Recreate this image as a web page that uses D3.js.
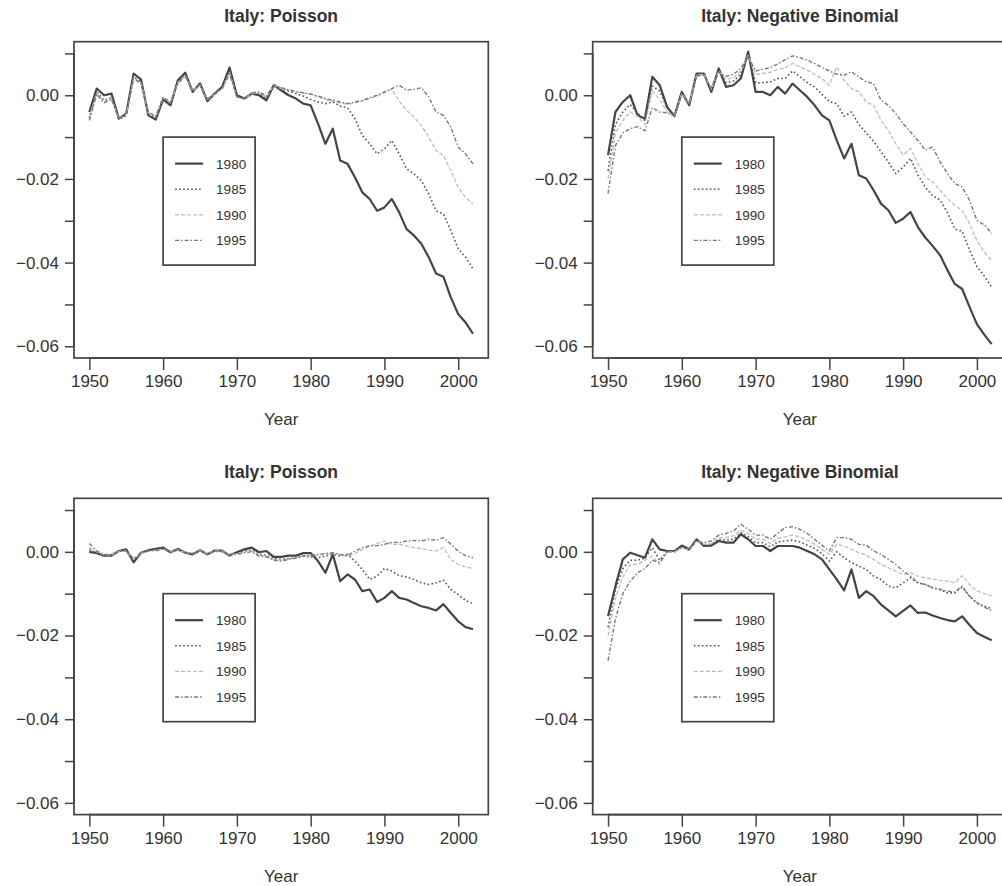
<!DOCTYPE html>
<html>
<head>
<meta charset="utf-8">
<script src="https://cdn.jsdelivr.net/npm/d3@7"></script>
<style>
  body { margin: 0; background: #fff; }
  svg { display: block; }
  text { font-family: "Liberation Sans", Arial, sans-serif; fill: #333; }
</style>
</head>
<body>
<svg id="chart" width="1002" height="886"></svg>
<script>
// Period effects for Italy, 1950–2002, fitted with data up to 1980, 1985, 1990 and 1995
const years = d3.range(1950, 2003);
const fitYears = ["1980", "1985", "1990", "1995"];
const panelTitles = ["Italy: Poisson", "Italy: Negative Binomial", "Italy: Poisson", "Italy: Negative Binomial"];
const xTicks = [1950, 1960, 1970, 1980, 1990, 2000];
const yTicks = [0.01, 0, -0.01, -0.02, -0.03, -0.04, -0.05, -0.06];
const yLabelled = [0, -0.02, -0.04, -0.06];

// Top-left: Poisson
const poisA_1980 = [-0.0040, 0.0016, 0.0000, 0.0004, -0.0056, -0.0044, 0.0052, 0.0038, -0.0048, -0.0058,
  -0.0010, -0.0024, 0.0036, 0.0054, 0.0008, 0.0028, -0.0014, 0.0004, 0.0020, 0.0066,
  0.0000, -0.0008, 0.0004, 0.0000, -0.0012, 0.0024, 0.0012, 0.0000, -0.0008, -0.0020,
  -0.0024, -0.0068, -0.0116, -0.0080, -0.0156, -0.0164, -0.0196, -0.0232, -0.0248, -0.0276,
  -0.0268, -0.0248, -0.0280, -0.0320, -0.0335, -0.0355, -0.0387, -0.0426, -0.0434, -0.0483,
  -0.0523, -0.0543, -0.0570];
const poisA_1985 = [-0.0055, 0.0008, -0.0012, -0.0005, -0.0058, -0.0048, 0.0045, 0.0032, -0.0045, -0.0055,
  -0.0008, -0.0020, 0.0032, 0.0050, 0.0010, 0.0026, -0.0012, 0.0002, 0.0018, 0.0058,
  -0.0002, -0.0010, 0.0002, 0.0004, -0.0008, 0.0022, 0.0016, 0.0010, 0.0004, -0.0002,
  -0.0010, -0.0016, -0.0020, -0.0016, -0.0026, -0.0030, -0.0056, -0.0096, -0.0116, -0.0140,
  -0.0128, -0.0108, -0.0140, -0.0176, -0.0188, -0.0204, -0.0236, -0.0276, -0.0284, -0.0323,
  -0.0367, -0.0387, -0.0415];
const poisA_1990 = [-0.0052, 0.0005, -0.0015, -0.0008, -0.0056, -0.0046, 0.0042, 0.0030, -0.0042, -0.0052,
  -0.0006, -0.0018, 0.0030, 0.0048, 0.0010, 0.0024, -0.0010, 0.0002, 0.0016, 0.0054,
  -0.0004, -0.0010, 0.0004, 0.0006, -0.0004, 0.0024, 0.0016, 0.0012, 0.0008, 0.0005,
  0.0002, -0.0004, -0.0010, -0.0014, -0.0018, -0.0022, -0.0018, -0.0014, -0.0008, -0.0002,
  0.0006, 0.0014, -0.0014, -0.0036, -0.0052, -0.0072, -0.0100, -0.0132, -0.0144, -0.0180,
  -0.0220, -0.0244, -0.0260];
const poisA_1995 = [-0.0060, 0.0002, -0.0018, -0.0010, -0.0055, -0.0046, 0.0040, 0.0028, -0.0040, -0.0050,
  -0.0005, -0.0016, 0.0028, 0.0046, 0.0012, 0.0024, -0.0008, 0.0004, 0.0016, 0.0050,
  -0.0004, -0.0008, 0.0006, 0.0008, -0.0002, 0.0026, 0.0018, 0.0013, 0.0009, 0.0006,
  0.0003, -0.0002, -0.0008, -0.0012, -0.0016, -0.0020, -0.0016, -0.0012, -0.0006, 0.0000,
  0.0008, 0.0016, 0.0024, 0.0012, 0.0014, 0.0018, -0.0004, -0.0040, -0.0048, -0.0076,
  -0.0124, -0.0140, -0.0164];

// Top-right: Negative Binomial
const nbA_1980 = [-0.0143, -0.0040, -0.0016, 0.0000, -0.0048, -0.0056, 0.0044, 0.0024, -0.0028, -0.0050,
  0.0008, -0.0024, 0.0052, 0.0052, 0.0008, 0.0064, 0.0020, 0.0024, 0.0040, 0.0104,
  0.0008, 0.0008, 0.0000, 0.0020, 0.0004, 0.0028, 0.0012, -0.0004, -0.0024, -0.0048,
  -0.0060, -0.0108, -0.0151, -0.0116, -0.0191, -0.0199, -0.0227, -0.0259, -0.0275, -0.0305,
  -0.0295, -0.0279, -0.0315, -0.0340, -0.0360, -0.0382, -0.0418, -0.0451, -0.0463, -0.0506,
  -0.0547, -0.0572, -0.0595];
const nbA_1985 = [-0.0180, -0.0070, -0.0040, -0.0022, -0.0042, -0.0060, 0.0022, 0.0010, -0.0030, -0.0050,
  0.0006, -0.0022, 0.0050, 0.0050, 0.0012, 0.0060, 0.0030, 0.0034, 0.0050, 0.0098,
  0.0030, 0.0030, 0.0032, 0.0040, 0.0040, 0.0058, 0.0045, 0.0030, 0.0020, 0.0002,
  -0.0015, -0.0020, -0.0050, -0.0040, -0.0070, -0.0090, -0.0110, -0.0135, -0.0160, -0.0187,
  -0.0172, -0.0151, -0.0190, -0.0220, -0.0240, -0.0250, -0.0280, -0.0320, -0.0325, -0.0370,
  -0.0410, -0.0432, -0.0459];
const nbA_1990 = [-0.0200, -0.0090, -0.0060, -0.0040, -0.0050, -0.0070, 0.0010, -0.0010, -0.0040, -0.0050,
  0.0004, -0.0020, 0.0048, 0.0050, 0.0015, 0.0058, 0.0038, 0.0042, 0.0058, 0.0095,
  0.0050, 0.0052, 0.0055, 0.0062, 0.0066, 0.0076, 0.0068, 0.0060, 0.0050, 0.0040,
  0.0024, 0.0068, 0.0036, 0.0016, 0.0008, -0.0016, -0.0024, -0.0060, -0.0084, -0.0116,
  -0.0143, -0.0127, -0.0163, -0.0195, -0.0207, -0.0227, -0.0247, -0.0263, -0.0275, -0.0307,
  -0.0347, -0.0375, -0.0395];
const nbA_1995 = [-0.0235, -0.0120, -0.0090, -0.0080, -0.0075, -0.0085, -0.0030, -0.0040, -0.0042, -0.0050,
  0.0002, -0.0020, 0.0046, 0.0048, 0.0018, 0.0056, 0.0045, 0.0050, 0.0065, 0.0092,
  0.0058, 0.0062, 0.0066, 0.0075, 0.0085, 0.0094, 0.0090, 0.0084, 0.0076, 0.0066,
  0.0058, 0.0050, 0.0048, 0.0056, 0.0044, 0.0032, 0.0028, -0.0012, -0.0024, -0.0044,
  -0.0068, -0.0088, -0.0108, -0.0131, -0.0124, -0.0159, -0.0187, -0.0211, -0.0219, -0.0251,
  -0.0299, -0.0310, -0.0330];

// Bottom-left: Poisson
const poisB_1980 = [0.0000, -0.0003, -0.0009, -0.0009, 0.0002, 0.0006, -0.0025, -0.0002, 0.0004, 0.0007,
  0.0010, -0.0001, 0.0007, -0.0002, -0.0006, 0.0004, -0.0006, 0.0003, 0.0003, -0.0009,
  -0.0001, 0.0006, 0.0010, -0.0001, 0.0002, -0.0012, -0.0012, -0.0009, -0.0009, -0.0003,
  -0.0003, -0.0022, -0.0050, -0.0006, -0.0070, -0.0054, -0.0066, -0.0094, -0.0090, -0.0120,
  -0.0110, -0.0094, -0.0110, -0.0114, -0.0122, -0.0130, -0.0134, -0.0140, -0.0125, -0.0146,
  -0.0166, -0.0180, -0.0185];
const poisB_1985 = [0.0005, -0.0002, -0.0008, -0.0008, 0.0001, 0.0004, -0.0020, -0.0003, 0.0003, 0.0005,
  0.0008, 0.0000, 0.0006, -0.0002, -0.0005, 0.0003, -0.0005, 0.0002, 0.0002, -0.0008,
  -0.0004, 0.0002, 0.0004, -0.0006, -0.0008, -0.0016, -0.0018, -0.0016, -0.0014, -0.0010,
  -0.0012, -0.0014, -0.0010, -0.0006, -0.0010, -0.0006, -0.0022, -0.0042, -0.0066, -0.0058,
  -0.0040, -0.0046, -0.0057, -0.0060, -0.0066, -0.0074, -0.0078, -0.0074, -0.0068, -0.0090,
  -0.0102, -0.0116, -0.0124];
const poisB_1990 = [0.0010, 0.0000, -0.0007, -0.0007, 0.0001, 0.0003, -0.0018, -0.0003, 0.0002, 0.0004,
  0.0007, 0.0000, 0.0005, -0.0002, -0.0004, 0.0003, -0.0004, 0.0002, 0.0002, -0.0007,
  -0.0005, 0.0000, 0.0002, -0.0008, -0.0010, -0.0018, -0.0020, -0.0017, -0.0014, -0.0010,
  -0.0010, -0.0008, -0.0006, -0.0004, -0.0008, -0.0010, -0.0004, 0.0006, 0.0014, 0.0020,
  0.0026, 0.0018, 0.0018, 0.0014, 0.0010, 0.0008, 0.0004, 0.0002, 0.0010, -0.0018,
  -0.0030, -0.0036, -0.0040];
const poisB_1995 = [0.0020, 0.0002, -0.0006, -0.0006, 0.0001, 0.0003, -0.0016, -0.0003, 0.0002, 0.0003,
  0.0006, 0.0000, 0.0004, -0.0002, -0.0004, 0.0002, -0.0004, 0.0001, 0.0001, -0.0006,
  -0.0006, -0.0002, 0.0000, -0.0010, -0.0012, -0.0020, -0.0022, -0.0018, -0.0015, -0.0010,
  -0.0008, -0.0006, -0.0004, -0.0002, -0.0006, -0.0009, 0.0002, 0.0010, 0.0014, 0.0015,
  0.0018, 0.0023, 0.0022, 0.0026, 0.0027, 0.0026, 0.0030, 0.0028, 0.0034, 0.0018,
  0.0002, -0.0009, -0.0014];

// Bottom-right: Negative Binomial
const nbB_1980 = [-0.0154, -0.0082, -0.0018, -0.0002, -0.0008, -0.0014, 0.0030, 0.0006, 0.0002, 0.0002,
  0.0015, 0.0006, 0.0030, 0.0014, 0.0015, 0.0026, 0.0022, 0.0022, 0.0042, 0.0030,
  0.0014, 0.0014, 0.0002, 0.0014, 0.0014, 0.0014, 0.0010, 0.0002, -0.0006, -0.0018,
  -0.0042, -0.0066, -0.0092, -0.0042, -0.0110, -0.0094, -0.0106, -0.0126, -0.0140, -0.0154,
  -0.0141, -0.0128, -0.0146, -0.0145, -0.0152, -0.0158, -0.0163, -0.0166, -0.0154, -0.0175,
  -0.0194, -0.0203, -0.0211];
const nbB_1985 = [-0.0180, -0.0090, -0.0040, -0.0020, -0.0020, -0.0015, 0.0010, -0.0020, 0.0000, 0.0000,
  0.0012, 0.0004, 0.0028, 0.0016, 0.0018, 0.0030, 0.0028, 0.0030, 0.0046, 0.0036,
  0.0022, 0.0022, 0.0012, 0.0024, 0.0026, 0.0028, 0.0024, 0.0016, 0.0008, -0.0004,
  -0.0022, 0.0000, -0.0014, -0.0026, -0.0034, -0.0042, -0.0058, -0.0066, -0.0082, -0.0086,
  -0.0074, -0.0062, -0.0074, -0.0078, -0.0086, -0.0090, -0.0098, -0.0098, -0.0084, -0.0106,
  -0.0122, -0.0130, -0.0135];
const nbB_1990 = [-0.0200, -0.0110, -0.0060, -0.0030, -0.0030, -0.0020, -0.0010, -0.0030, 0.0000, 0.0000,
  0.0010, 0.0004, 0.0026, 0.0018, 0.0020, 0.0034, 0.0034, 0.0038, 0.0052, 0.0044,
  0.0030, 0.0030, 0.0020, 0.0032, 0.0036, 0.0040, 0.0036, 0.0028, 0.0018, 0.0006,
  -0.0006, 0.0018, 0.0014, 0.0006, -0.0002, -0.0008, -0.0018, -0.0030, -0.0038, -0.0046,
  -0.0054, -0.0050, -0.0058, -0.0062, -0.0065, -0.0068, -0.0070, -0.0074, -0.0057, -0.0078,
  -0.0094, -0.0100, -0.0105];
const nbB_1995 = [-0.0260, -0.0160, -0.0100, -0.0070, -0.0050, -0.0040, -0.0020, -0.0025, 0.0000, 0.0002,
  0.0010, 0.0006, 0.0026, 0.0022, 0.0026, 0.0040, 0.0044, 0.0050, 0.0066, 0.0054,
  0.0040, 0.0040, 0.0030, 0.0044, 0.0058, 0.0060, 0.0054, 0.0044, 0.0030, 0.0016,
  0.0002, 0.0034, 0.0034, 0.0030, 0.0018, 0.0016, 0.0002, -0.0006, -0.0018, -0.0030,
  -0.0046, -0.0058, -0.0074, -0.0078, -0.0086, -0.0090, -0.0094, -0.0096, -0.0082, -0.0106,
  -0.0122, -0.0132, -0.0140];

const panelSeries = [
  [poisA_1980, poisA_1985, poisA_1990, poisA_1995],
  [nbA_1980, nbA_1985, nbA_1990, nbA_1995],
  [poisB_1980, poisB_1985, poisB_1990, poisB_1995],
  [nbB_1980, nbB_1985, nbB_1990, nbB_1995]
];

// Line styles for the four fitting periods
const lineStyles = [
  { stroke: "#444", width: 2.2, dash: null },
  { stroke: "#555", width: 1.6, dash: "1.6,2.4" },
  { stroke: "#bdbdbd", width: 1.3, dash: "4,2" },
  { stroke: "#7a7a7a", width: 1.4, dash: "4,2,1.5,2" }
];

const svg = d3.select("#chart");
const frame = { w: 414.3, h: 316.3 };
const origins = [
  { x: 74, y: 41.7 }, { x: 592.7, y: 41.7 },
  { x: 74, y: 498.3 }, { x: 592.7, y: 498.3 }
];
const axisColor = "#444";
const tickFont = "17px";

origins.forEach((o, i) => {
  const g = svg.append("g").attr("transform", `translate(${o.x},${o.y})`);
  const x = d3.scaleLinear().domain([1947.92, 2004.08]).range([0, frame.w]);
  const y = d3.scaleLinear().domain([-0.0628, 0.0128]).range([frame.h, 0]);

  // title
  g.append("text")
    .attr("x", frame.w / 2).attr("y", -20)
    .attr("text-anchor", "middle")
    .style("font-size", "17.5px").style("font-weight", "bold")
    .text(panelTitles[i]);

  // series
  const line = d3.line().x((d, k) => x(years[k])).y(d => y(d));
  panelSeries[i].forEach((vals, s) => {
    const st = lineStyles[s];
    g.append("path")
      .datum(vals)
      .attr("d", line)
      .attr("fill", "none")
      .attr("stroke", st.stroke)
      .attr("stroke-width", st.width)
      .attr("stroke-linejoin", "round")
      .attr("stroke-dasharray", st.dash);
  });

  // plot frame
  g.append("rect")
    .attr("width", frame.w).attr("height", frame.h)
    .attr("fill", "none").attr("stroke", axisColor).attr("stroke-width", 1.7);

  // y axis
  const yAxis = d3.axisLeft(y).tickValues(yTicks).tickSize(9).tickPadding(6)
    .tickFormat(v => yLabelled.some(t => Math.abs(t - v) < 1e-9) ? (v < 0 ? "\u2212" : "") + Math.abs(v).toFixed(2) : "");
  const ya = g.append("g").call(yAxis);
  ya.select(".domain").attr("stroke", axisColor).attr("stroke-width", 1.7)
    .attr("d", `M0,${y(0.01)}V${y(-0.06)}`);
  ya.selectAll(".tick line").attr("stroke", axisColor).attr("stroke-width", 1.5);
  ya.selectAll(".tick text").style("font-size", tickFont).attr("fill", "#333");

  // x axis
  const xAxis = d3.axisBottom(x).tickValues(xTicks).tickSize(12).tickPadding(5).tickFormat(d3.format("d"));
  const xa = g.append("g").attr("transform", `translate(0,${frame.h})`).call(xAxis);
  xa.select(".domain").attr("stroke", axisColor).attr("stroke-width", 1.7)
    .attr("d", `M${x(1950)},0H${x(2000)}`);
  xa.selectAll(".tick line").attr("stroke", axisColor).attr("stroke-width", 1.5);
  xa.selectAll(".tick text").style("font-size", tickFont).attr("fill", "#333");

  g.append("text")
    .attr("x", frame.w / 2).attr("y", frame.h + 67)
    .attr("text-anchor", "middle")
    .style("font-size", tickFont)
    .text("Year");

  // legend anchored at (1960, -0.01)
  const lx = x(1960), ly = y(-0.01);
  const lg = g.append("g").attr("transform", `translate(${lx},${ly})`);
  lg.append("rect").attr("width", 92).attr("height", 128)
    .attr("fill", "#fff").attr("stroke", axisColor).attr("stroke-width", 1.7);
  fitYears.forEach((lab, s) => {
    const st = lineStyles[s];
    const ry = 26.5 + s * 25.6;
    lg.append("line")
      .attr("x1", 12).attr("x2", 40).attr("y1", ry).attr("y2", ry)
      .attr("stroke", st.stroke).attr("stroke-width", st.width)
      .attr("stroke-dasharray", st.dash);
    lg.append("text")
      .attr("x", 53).attr("y", ry + 5)
      .style("font-size", "13.5px")
      .text(lab);
  });
});
</script>
</body>
</html>
